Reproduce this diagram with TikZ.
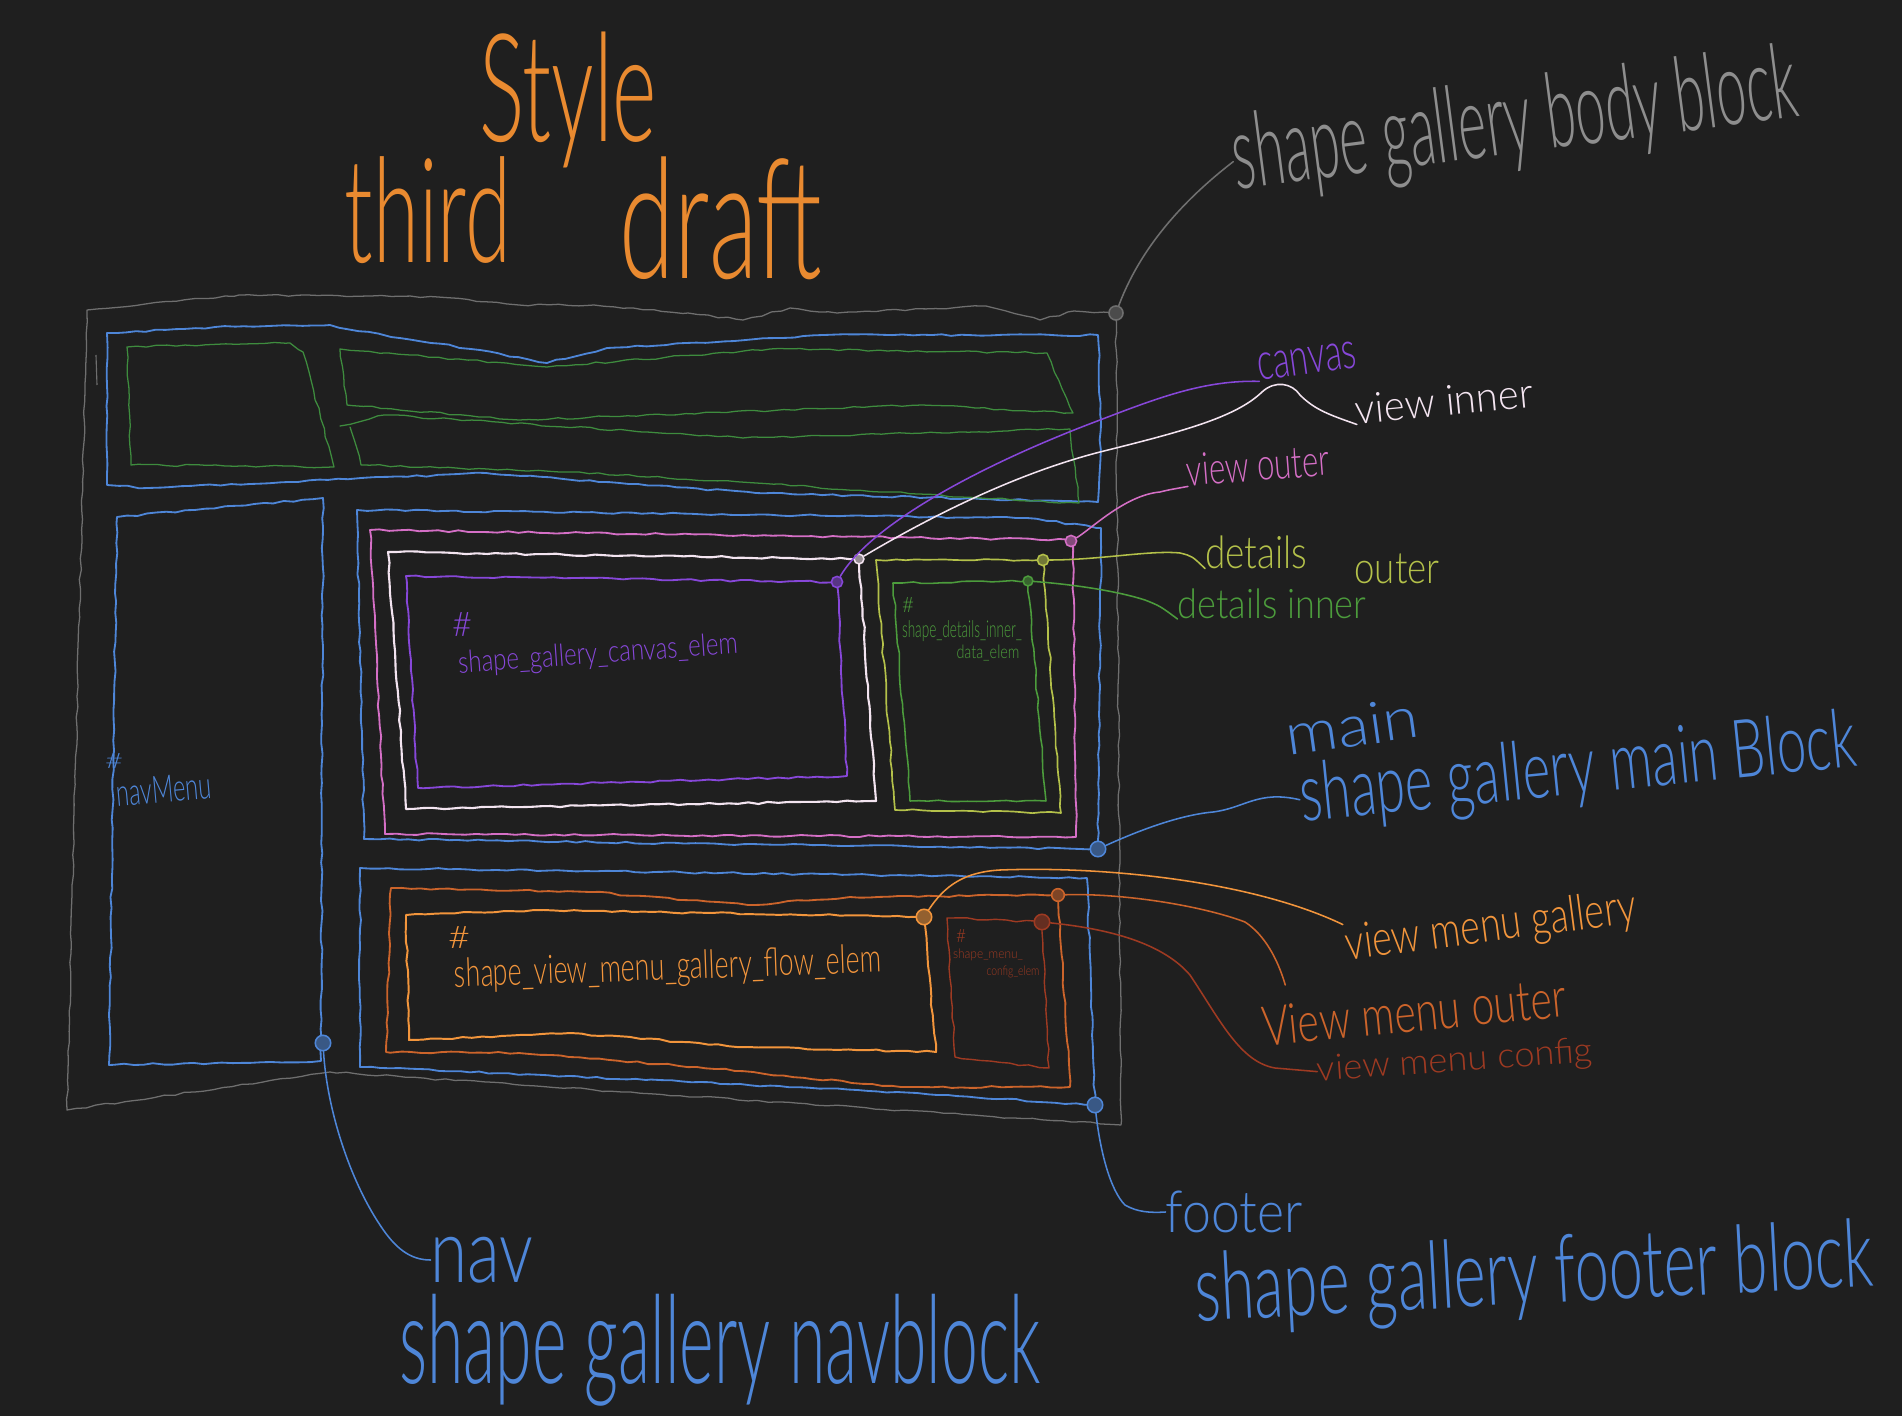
\documentclass[tikz,border=0pt]{standalone}
\usepackage{fontspec}
\usepackage{graphicx}
\newfontfamily\hand{Lato Light}
\usetikzlibrary{decorations.pathmorphing}
\definecolor{bg}{HTML}{1F1F1F}
\definecolor{cgray}{HTML}{6F6F6F}
\definecolor{cgraytxt}{HTML}{8E8E8E}
\definecolor{cblue}{HTML}{4E86D8}
\definecolor{cgreen}{HTML}{3E8C3E}
\definecolor{cgreen2}{HTML}{4C9C3C}
\definecolor{cpink}{HTML}{D56FC6}
\definecolor{cwhite}{HTML}{F3E4F0}
\definecolor{cpurple}{HTML}{8747D9}
\definecolor{cyellow}{HTML}{B4C14A}
\definecolor{corange}{HTML}{F2953C}
\definecolor{cdorange}{HTML}{CC642B}
\definecolor{cred}{HTML}{9E3A22}
\definecolor{ctitle}{HTML}{E98A30}
\newlength\ux
\setlength\ux{0.25mm}
\newcommand\hw[3]{\resizebox*{#1\ux}{#2\ux}{\hand #3}}
\begin{document}
\begin{tikzpicture}[x=0.25mm,y=-0.25mm,
  wob/.style={decorate,decoration={random steps,segment length=7pt,amplitude=0.7pt}},
  box/.style={draw=#1,line width=1.3pt,wob,line join=round,line cap=round},
  thinbox/.style={draw=#1,line width=0.9pt,wob,line join=round,line cap=round},
  lbl/.style={inner sep=0pt,outer sep=0pt,text=#1},
  knob/.style={circle,draw=#1,fill=#1!55!bg,line width=1.1pt,inner sep=0pt,minimum size=9pt},
  link/.style={draw=#1,line width=1.1pt,line cap=round}]
\pgfmathsetseed{11}
\useasboundingbox (0,0) rectangle (1902,1416);
\fill[bg] (0,0) rectangle (1902,1416);

% body block
\draw[thinbox=cgray] (87,310) -- (239,295) -- (371,296) -- (438,297) -- (519,305) -- (594,305) -- (688,313) -- (743,320) -- (790,308) -- (837,313) -- (986,306) -- (1040,320) -- (1074,311) -- (1116,313) -- (1121,1125) -- (700,1097) -- (330,1072) -- (67,1110) -- cycle;
\draw[cgray,line width=0.8pt] (96,355) -- (97,385);
% header
\draw[box=cblue] (107,333) -- (215,327) -- (330,325) -- (391,337) -- (480,350) -- (547,363) -- (607,348) -- (824,335) -- (1098,335) -- (1101,420) -- (1098,502) -- (756,493) -- (486,473) -- (148,488) -- (107,485) -- cycle;
\draw[thinbox=cgreen] (127,347) -- (290,343) -- (303,352) -- (334,467) -- (131,465) -- cycle;
\draw[thinbox=cgreen] (340,349) -- (547,367) -- (770,349) -- (1047,353) -- (1073,413) -- (922,405) -- (519,420) -- (347,405) -- cycle;
\draw[thinbox=cgreen] (340,426) -- (384,415) -- (743,438) -- (1070,429) -- (1079,503) -- (959,497) -- (756,483) -- (567,472) -- (361,465) -- (350,427);
% nav
\draw[box=cblue] (117,517) -- (323,498) -- (321,1061) -- (109,1065) -- cycle;
% main
\draw[box=cblue] (357,510) -- (1027,518) -- (1101,528) -- (1098,849) -- (364,839) -- cycle;
\draw[box=cpink] (370,530) -- (1073,540) -- (1076,837) -- (385,834) -- cycle;
\draw[box=cwhite,line width=1.5pt] (388,552) -- (859,559) -- (876,801) -- (406,809) -- cycle;
\draw[box=cpurple] (406,576) -- (837,582) -- (847,776) -- (418,788) -- cycle;
\draw[box=cyellow,line width=1.2pt] (876,560) -- (1043,560) -- (1061,813) -- (895,810) -- cycle;
\draw[box=cgreen2,line width=1.1pt] (893,583) -- (1028,581) -- (1046,801) -- (910,801) -- cycle;
% footer
\draw[box=cblue] (360,868) -- (1087,878) -- (1095,1105) -- (917,1093) -- (646,1080) -- (360,1067) -- cycle;
\draw[box=cdorange] (391,888) -- (590,892) -- (748,905) -- (850,897) -- (1058,895) -- (1070,1087) -- (901,1087) -- (697,1067) -- (519,1053) -- (386,1052) -- cycle;
\draw[box=corange,line width=1.4pt] (406,915) -- (544,910) -- (924,917) -- (936,1052) -- (748,1047) -- (570,1033) -- (409,1040) -- cycle;
\draw[box=cred,line width=1.0pt] (947,918) -- (1042,922) -- (1049,1068) -- (955,1057) -- cycle;

% knobs
\node[knob=cgray,minimum size=10pt] (bc) at (1116,313) {};
\node[knob=cpurple,minimum size=8pt] (cc) at (837,582) {};
\node[knob=cwhite,minimum size=7pt] (wc) at (859,559) {};
\node[knob=cpink,minimum size=8pt] (pc) at (1071,541) {};
\node[knob=cyellow,minimum size=8pt] (yc) at (1043,560) {};
\node[knob=cgreen2,minimum size=7pt] (gc) at (1028,581) {};
\node[knob=cblue,minimum size=11pt] (mc) at (1098,849) {};
\node[knob=corange,minimum size=11pt] (oc) at (924,917) {};
\node[knob=cdorange,minimum size=9pt] (doc) at (1058,895) {};
\node[knob=cred,minimum size=11pt] (rc) at (1042,922) {};
\node[knob=cblue,minimum size=11pt] (fc) at (1095,1105) {};
\node[knob=cblue,minimum size=11pt] (nc) at (323,1043) {};

% titles
\node[lbl=ctitle] (ttl1) at (568,100) {\hw{178}{136}{Style}};
\node[lbl=ctitle] (ttl2) at (428,210) {\hw{166}{107}{third}};
\node[lbl=ctitle] (ttl3) at (721,218) {\hw{203}{123}{draft}};

% labels
\node[lbl=cgraytxt,rotate=7.4] (bodylbl) at (1515,125) {\hw{568}{95}{shape gallery body block}};
\node[lbl=cpurple,rotate=8] (canvaslbl) at (1307,361) {\hw{100}{27}{canvas}};
\node[lbl=cwhite,rotate=5.5] (vinner) at (1444,401) {\hw{178}{30}{view inner}};
\node[lbl=cpink,rotate=4.4] (vouter) at (1258,465) {\hw{143}{32}{view outer}};
\node[lbl=cyellow] (detout) at (1256,552) {\hw{102}{33}{details}};
\node[lbl=cyellow] (detout2) at (1397,569) {\hw{85}{30}{outer}};
\node[lbl=cgreen2] (detin) at (1272,604) {\hw{189}{30}{details inner}};
\node[lbl=cblue,rotate=8] (mainlbl) at (1352,726) {\hw{134}{42}{main}};
\node[lbl=cblue,rotate=5.7] (mainlbl2) at (1578,772) {\hw{559}{74}{shape gallery main Block}};
\node[lbl=corange,rotate=7.4] (vmgal) at (1491,928) {\hw{293}{45}{view menu gallery}};
\node[lbl=cdorange,rotate=5.6] (vmout) at (1414,1012) {\hw{305}{40}{View menu outer}};
\node[lbl=cred,rotate=4] (vmcfg) at (1455,1062) {\hw{276}{32}{view menu config}};
\node[lbl=cblue] (footlbl) at (1234,1212) {\hw{137}{42}{footer}};
\node[lbl=cblue,rotate=3] (footlbl2) at (1534,1278) {\hw{679}{86}{shape gallery footer block}};
\node[lbl=cblue] (navlbl) at (482,1260) {\hw{103}{46}{nav}};
\node[lbl=cblue] (navlbl2) at (720,1350) {\hw{641}{112}{shape gallery navblock}};

% inner texts
\node[lbl=cblue] (navhash) at (114,761) {\hw{18}{15}{\#}};
\node[lbl=cblue,rotate=5] (navmenu) at (164,789) {\hw{95}{27}{navMenu}};
\node[lbl=cpurple] (canhash) at (462,624) {\hw{20}{24}{\#}};
\node[lbl=cpurple,rotate=4] (cantxt) at (598,655) {\hw{280}{28}{shape\_gallery\_canvas\_elem}};
\node[lbl=cgreen2] (dethash) at (908,605) {\hw{12}{15}{\#}};
\node[lbl=cgreen2] (dettxt1) at (962,631) {\hw{120}{21}{shape\_details\_inner\_}};
\node[lbl=cgreen2] (dettxt2) at (988,653) {\hw{63}{16}{data\_elem}};
\node[lbl=corange] (galhash) at (459,937) {\hw{22}{22}{\#}};
\node[lbl=corange,rotate=2] (galtxt) at (668,969) {\hw{427}{36}{shape\_view\_menu\_gallery\_flow\_elem}};
\node[lbl=cred] (cfghash) at (961,936) {\hw{10}{13}{\#}};
\node[lbl=cred] (cfgtxt1) at (988,955) {\hw{70}{12}{shape\_menu\_}};
\node[lbl=cred] (cfgtxt2) at (1013,972) {\hw{53}{12}{config\_elem}};

% connectors
\draw[link=cgray] (bc) .. controls (1135,262) and (1168,212) .. (bodylbl.west);
\draw[link=cpurple] (cc) .. controls (870,525) and (980,465) .. (1100,420) .. controls (1160,397) and (1205,380) .. (canvaslbl.south west);
\draw[link=cwhite] (wc) .. controls (950,505) and (1030,470) .. (1100,452) .. controls (1180,432) and (1235,418) .. (1262,392) .. controls (1275,380) and (1292,383) .. (1300,395) .. controls (1315,410) and (1330,415) .. (vinner.south west);
\draw[link=cpink] (pc) .. controls (1090,530) and (1125,495) .. (1160,492) .. controls (1168,490) .. (vouter.south west);
\draw[link=cyellow] (yc) .. controls (1100,560) and (1150,550) .. (1180,553) .. controls (1192,556) .. (detout.south west);
\draw[link=cgreen2] (gc) .. controls (1080,585) and (1120,592) .. (1145,600) .. controls (1160,606) .. (detin.south west);
\draw[link=cblue] (mc) .. controls (1140,830) and (1180,815) .. (1213,812) .. controls (1245,808) and (1258,790) .. (mainlbl2.west);
\draw[link=corange] (oc) .. controls (945,885) and (965,872) .. (1000,870) .. controls (1100,866) and (1250,880) .. (vmgal.north west);
\draw[link=cdorange] (doc) .. controls (1120,893) and (1200,905) .. (1245,922) .. controls (1265,935) and (1278,960) .. ([shift={(25,-22)}]vmout.north west);
\draw[link=cred] (rc) .. controls (1100,928) and (1160,940) .. (1190,975) .. controls (1220,1020) and (1240,1062) .. (1275,1068) -- (vmcfg.west);
\draw[link=cblue] (fc) .. controls (1100,1150) and (1110,1190) .. (1125,1205) .. controls (1137,1212) and (1150,1213) .. (footlbl.west);
\draw[link=cblue] (nc) .. controls (327,1110) and (350,1180) .. (380,1225) .. controls (395,1248) and (410,1260) .. (navlbl.west);
\end{tikzpicture}
\end{document}
